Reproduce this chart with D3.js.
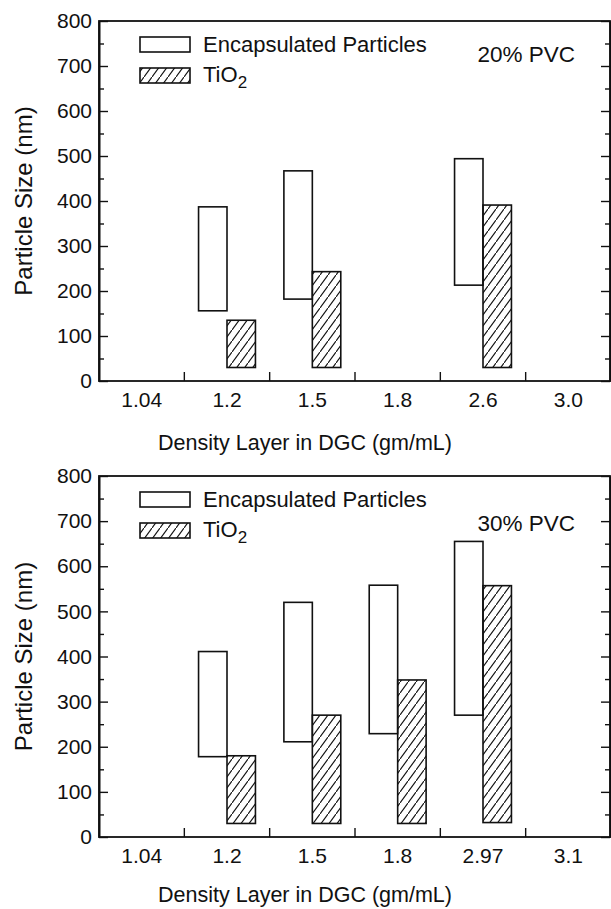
<!DOCTYPE html>
<html>
<head>
<meta charset="utf-8">
<script src="https://cdn.jsdelivr.net/npm/d3@7"></script>
<style>
  body { margin: 0; background: #fff; }
  text { font-family: "Liberation Sans", Arial, Helvetica, sans-serif; fill: #111; }
</style>
</head>
<body>
<script>
// density layers on the x axis, one list per panel
var layers20 = ["1.04", "1.2", "1.5", "1.8", "2.6", "3.0"];
var layers30 = ["1.04", "1.2", "1.5", "1.8", "2.97", "3.1"];

// size ranges in nm: [layer, low, high]
var encap20 = [["1.2", 156, 387], ["1.5", 182, 467], ["2.6", 213, 494]];
var tio2_20 = [["1.2", 30, 135], ["1.5", 30, 243], ["2.6", 30, 391]];
var encap30 = [["1.2", 178, 411], ["1.5", 211, 520], ["1.8", 229, 558], ["2.97", 270, 655]];
var tio2_30 = [["1.2", 30, 180], ["1.5", 30, 270], ["1.8", 30, 348], ["2.97", 32, 557]];

var yMajor = [0, 100, 200, 300, 400, 500, 600, 700, 800];
var yMinor = [50, 150, 250, 350, 450, 550, 650, 750];

var width = 611,
    height = 909;

var svg = d3.select("body")
    .append("svg")
    .attr("width", width)
    .attr("height", height);

// hatch for the TiO2 bars
svg.append("defs")
    .append("pattern")
    .attr("id", "hatch")
    .attr("patternUnits", "userSpaceOnUse")
    .attr("width", 8)
    .attr("height", 11)
    .append("path")
    .attr("d", "M-1,12.4 L9,-1.4")
    .attr("stroke", "#111")
    .attr("stroke-width", 1.1);

drawPanel({ layers: layers20, encap: encap20, tio2: tio2_20, top: 21, bottom: 381, pvc: "20% PVC", pvcY: 62, titleY: 450 });
drawPanel({ layers: layers30, encap: encap30, tio2: tio2_30, top: 476, bottom: 837, pvc: "30% PVC", pvcY: 531, titleY: 902 });

function drawPanel(p) {
    var left = 99, right = 610;

    var x = d3.scaleBand()
        .domain(p.layers)
        .range([left, 611]);

    var y = d3.scaleLinear()
        .domain([0, 800])
        .range([p.bottom, p.top]);

    var g = svg.append("g");
    var bw = x.bandwidth() / 3;

    // encapsulated particles: open boxes left of the band centre
    g.selectAll(".encap")
        .data(p.encap)
        .enter()
        .append("rect")
        .attr("x", function(d) { return x(d[0]) + x.bandwidth() / 2 - bw; })
        .attr("y", function(d) { return y(d[2]); })
        .attr("width", bw)
        .attr("height", function(d) { return y(d[1]) - y(d[2]); })
        .attr("fill", "#fff")
        .attr("stroke", "#111")
        .attr("stroke-width", 1.6);

    // TiO2: hatched boxes right of the centre
    g.selectAll(".tio2")
        .data(p.tio2)
        .enter()
        .append("rect")
        .attr("x", function(d) { return x(d[0]) + x.bandwidth() / 2; })
        .attr("y", function(d) { return y(d[2]); })
        .attr("width", bw)
        .attr("height", function(d) { return y(d[1]) - y(d[2]); })
        .attr("fill", "url(#hatch)")
        .attr("stroke", "#111")
        .attr("stroke-width", 1.6);

    // left axis, ticks pointing in
    var yAxis = g.append("g")
        .attr("transform", "translate(" + left + ",0)")
        .call(d3.axisLeft(y).tickValues(yMajor).tickSizeInner(-9).tickSizeOuter(0).tickPadding(7));
    yAxis.selectAll("text").style("font-size", "21px");
    g.append("g")
        .attr("transform", "translate(" + left + ",0)")
        .call(d3.axisLeft(y).tickValues(yMinor).tickSizeInner(-5).tickSizeOuter(0).tickFormat(""));

    // right axis
    g.append("g")
        .attr("transform", "translate(" + right + ",0)")
        .call(d3.axisRight(y).tickValues(yMajor).tickSizeInner(-9).tickSizeOuter(0).tickFormat(""));
    g.append("g")
        .attr("transform", "translate(" + right + ",0)")
        .call(d3.axisRight(y).tickValues(yMinor).tickSizeInner(-5).tickSizeOuter(0).tickFormat(""));

    // bottom axis: labels centred in bands, ticks at band edges
    var xAxis = g.append("g")
        .attr("transform", "translate(0," + p.bottom + ")")
        .call(d3.axisBottom(x).tickSize(0).tickPadding(11));
    xAxis.select(".domain").remove();
    xAxis.selectAll("text").style("font-size", "21px");
    g.selectAll(".xtick")
        .data(p.layers.slice(1))
        .enter()
        .append("line")
        .attr("x1", function(d) { return x(d); })
        .attr("x2", function(d) { return x(d); })
        .attr("y1", p.bottom)
        .attr("y2", p.bottom - 9)
        .attr("stroke", "#111")
        .attr("stroke-width", 1.4);

    g.selectAll(".domain").attr("stroke", "#111").attr("stroke-width", 1.6);
    g.selectAll(".tick line").attr("stroke", "#111").attr("stroke-width", 1.4);

    // frame
    g.append("rect")
        .attr("x", left)
        .attr("y", p.top)
        .attr("width", right - left)
        .attr("height", p.bottom - p.top)
        .attr("fill", "none")
        .attr("stroke", "#111")
        .attr("stroke-width", 1.8);

    // legend
    g.append("rect")
        .attr("x", 140).attr("y", p.top + 16)
        .attr("width", 50).attr("height", 15)
        .attr("fill", "#fff").attr("stroke", "#111").attr("stroke-width", 1.6);
    g.append("rect")
        .attr("x", 140).attr("y", p.top + 47)
        .attr("width", 50).attr("height", 15)
        .attr("fill", "url(#hatch)").attr("stroke", "#111").attr("stroke-width", 1.6);
    g.append("text")
        .attr("x", 203).attr("y", p.top + 31)
        .style("font-size", "22px")
        .text("Encapsulated Particles");
    var ti = g.append("text")
        .attr("x", 203).attr("y", p.top + 61)
        .style("font-size", "22px");
    ti.append("tspan").text("TiO");
    ti.append("tspan").attr("dy", 6).style("font-size", "17px").text("2");

    g.append("text")
        .attr("x", 575).attr("y", p.pvcY)
        .attr("text-anchor", "end")
        .style("font-size", "22.5px")
        .text(p.pvc);

    // axis titles
    g.append("text")
        .attr("x", 305).attr("y", p.titleY)
        .attr("text-anchor", "middle")
        .style("font-size", "21.5px")
        .text("Density Layer in DGC (gm/mL)");
    g.append("text")
        .attr("transform", "translate(32," + ((p.top + p.bottom) / 2) + ") rotate(-90)")
        .attr("text-anchor", "middle")
        .style("font-size", "24px")
        .text("Particle Size (nm)");
}
</script>
</body>
</html>
